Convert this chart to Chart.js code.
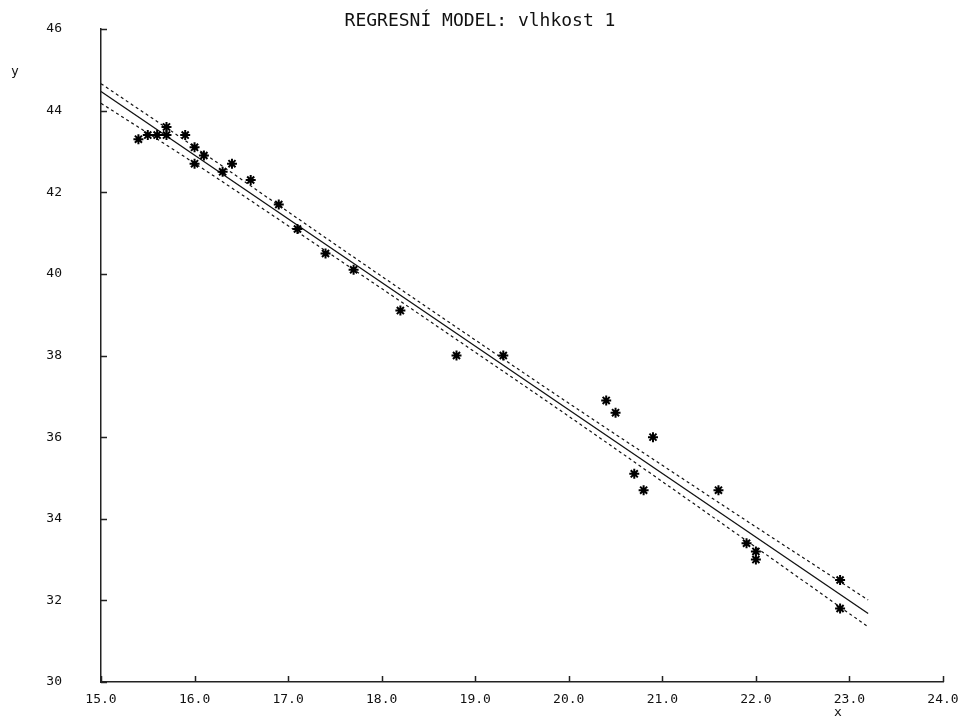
<!DOCTYPE html>
<html>
<head>
<meta charset="utf-8">
<title>Regresní model</title>
<script src="https://cdn.jsdelivr.net/npm/chart.js@4.4.1/dist/chart.umd.min.js"></script>
<style>
  html, body { margin: 0; padding: 0; background: #fff; }
  #wrap { width: 965px; height: 719px; }
</style>
</head>
<body>
<div id="wrap"><canvas id="regrese"></canvas></div>
<script>
// naměřené hodnoty
const xObs = [15.4, 15.5, 15.6, 15.7, 15.7, 15.9, 16.0, 16.0, 16.1, 16.3,
  16.4, 16.6, 16.9, 17.1, 17.4, 17.7, 18.2, 18.8, 19.3, 20.4,
  20.5, 20.9, 20.7, 20.8, 21.6, 21.9, 22.0, 22.0, 22.9, 22.9];
const yObs = [43.3, 43.4, 43.4, 43.6, 43.4, 43.4, 43.1, 42.7, 42.9, 42.5,
  42.7, 42.3, 41.7, 41.1, 40.5, 40.1, 39.1, 38.0, 38.0, 36.9,
  36.6, 36.0, 35.1, 34.7, 34.7, 33.4, 33.2, 33.0, 32.5, 31.8];

// regresní přímka
const fitX = [15.0, 23.2];
const fitY = [44.47, 31.68];

// pás spolehlivosti
const bandX = [15.0, 16.0, 17.0, 18.0, 19.0, 20.0, 21.0, 22.0, 23.2];
const upperY = [44.66, 43.11, 41.52, 39.94, 38.38, 36.83, 35.31, 33.80, 32.01];
const lowerY = [44.18, 42.71, 41.18, 39.64, 38.08, 36.51, 34.91, 33.30, 31.35];

const xTicks = [15, 16, 17, 18, 19, 20, 21, 22, 23, 24];
const yTicks = [30, 32, 34, 36, 38, 40, 42, 44, 46];

const titleText = "REGRESNÍ MODEL: vlhkost 1";
const FONT = "'DejaVu Sans Mono', monospace";

const toPts = (xs, ys) => xs.map((x, i) => ({ x: x, y: ys[i] }));

// tick marks pointing into the plot + texts
const decor = {
  id: "decor",
  afterDraw(chart) {
    const ctx = chart.ctx;
    const xs = chart.scales.x;
    const ys = chart.scales.y;
    ctx.save();
    ctx.strokeStyle = "#222";
    ctx.lineWidth = 1.5;
    ctx.beginPath();
    xTicks.forEach((v) => {
      const px = Math.round(xs.getPixelForValue(v)) + 0.5;
      ctx.moveTo(px, ys.bottom);
      ctx.lineTo(px, ys.bottom - 6);
    });
    yTicks.forEach((v) => {
      const py = Math.round(ys.getPixelForValue(v)) + 0.5;
      ctx.moveTo(xs.left, py);
      ctx.lineTo(xs.left + 6, py);
    });
    ctx.stroke();

    ctx.fillStyle = "#111";
    ctx.textBaseline = "middle";
    ctx.textAlign = "center";
    ctx.font = "18px " + FONT;
    ctx.fillText(titleText, 480, 21);
    ctx.font = "13px " + FONT;
    ctx.fillText("y", 15, 72);
    ctx.fillText("x", 838, 713);
    ctx.restore();
  }
};

// outward ticks are kept invisible, they only push the labels away from the axis
const hiddenTicks = (len) => ({
  display: true,
  drawOnChartArea: false,
  drawTicks: true,
  tickLength: len,
  color: "rgba(0,0,0,0)"
});

new Chart(document.getElementById("regrese"), {
  type: "scatter",
  data: {
    datasets: [
      {
        label: "data",
        data: toPts(xObs, yObs),
        pointStyle: "star",
        pointRadius: 5,
        borderColor: "#000",
        backgroundColor: "#000",
        borderWidth: 2,
        showLine: false
      },
      {
        label: "model",
        data: toPts(fitX, fitY),
        showLine: true,
        pointRadius: 0,
        borderColor: "#111",
        borderWidth: 1.3
      },
      {
        label: "horní mez",
        data: toPts(bandX, upperY),
        showLine: true,
        pointRadius: 0,
        borderColor: "#111",
        borderWidth: 1.2,
        borderDash: [3, 3],
        cubicInterpolationMode: "monotone"
      },
      {
        label: "dolní mez",
        data: toPts(bandX, lowerY),
        showLine: true,
        pointRadius: 0,
        borderColor: "#111",
        borderWidth: 1.2,
        borderDash: [3, 3],
        cubicInterpolationMode: "monotone"
      }
    ]
  },
  options: {
    responsive: true,
    maintainAspectRatio: false,
    animation: false,
    layout: {
      padding: { top: 29, right: 22, left: 0, bottom: 0 }
    },
    plugins: {
      legend: { display: false },
      tooltip: { enabled: false }
    },
    scales: {
      x: {
        type: "linear",
        min: 15,
        max: 24,
        afterFit: (scale) => { scale.height = 37; },
        grid: hiddenTicks(9),
        border: { display: true, color: "#222", width: 1.5 },
        ticks: {
          stepSize: 1,
          padding: 1,
          color: "#111",
          font: { family: FONT, size: 13 },
          callback: (v) => v.toFixed(1)
        }
      },
      y: {
        type: "linear",
        min: 30,
        max: 46,
        afterFit: (scale) => { scale.width = 101; },
        grid: hiddenTicks(38),
        border: { display: true, color: "#222", width: 1.5 },
        ticks: {
          stepSize: 2,
          padding: 1,
          color: "#111",
          font: { family: FONT, size: 13 }
        }
      }
    }
  },
  plugins: [decor]
});
</script>
</body>
</html>
